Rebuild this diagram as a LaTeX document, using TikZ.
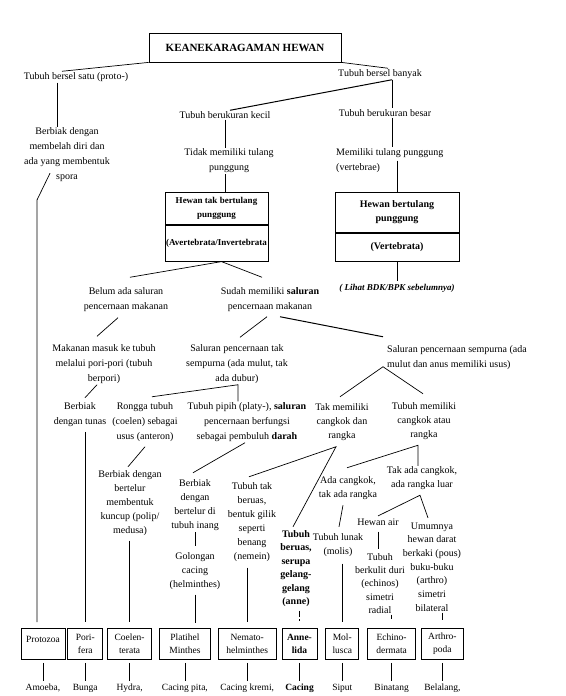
\documentclass[tikz,border=0pt]{standalone}
\usepackage{fontspec}
\setmainfont{Liberation Serif}
\usetikzlibrary{positioning}

\begin{document}
\begin{tikzpicture}[
        x=1pt, y=-1pt, % pixel grid of the scan, y runs down
        every node/.style={align=center, inner sep=1pt, font=\fontsize{10}{14}\selectfont},
        upper/.style={font=\fontsize{10}{15}\selectfont}, % looser leading in the top half
        link/.style={line width=0.7pt},
        catbox/.style={draw, line width=0.8pt, minimum width=103pt, font=\bfseries\fontsize{9}{14}\selectfont},
        taxon/.style={draw, line width=0.8pt, minimum height=31pt, font=\fontsize{9.5}{13}\selectfont}, % bottom row
        species/.style={font=\fontsize{9.5}{12}\selectfont}
    ]
    \useasboundingbox (0,0) rectangle (565,696);

    % top of the key
    \node[draw, line width=0.8pt, minimum width=192pt, minimum height=29pt, font=\bfseries\fontsize{11}{13}\selectfont] (title) at (245,47.5) {KEANEKARAGAMAN HEWAN};
    \node (proto) at (76,77) {Tubuh bersel satu (proto-)};
    \node (banyak) at (380,74) {Tubuh bersel banyak};
    \node[upper] (spora) at (67,155) {Berbiak dengan\\membelah diri dan\\ada yang membentuk\\spora};
    \node (kecil) at (225,115) {Tubuh berukuran kecil};
    \node (besar) at (385,113) {Tubuh berukuran besar};
    \node[upper] (tidak) at (229,161) {Tidak memiliki tulang\\punggung};
    \node[upper, anchor=west, align=left] (vert) at (335,160.5) {Memiliki tulang punggung\\(vertebrae)};

    % the two groups
    \node[catbox, minimum height=32pt, anchor=north] (avtop) at (216.5,192) {Hewan tak bertulang\\punggung};
    \node[catbox, minimum height=36pt, below=0pt of avtop] (avbot) {(Avertebrata/Invertebrata};
    \node[catbox, minimum width=124pt, minimum height=40pt, anchor=north, font=\bfseries\fontsize{10}{14}\selectfont] (vtop) at (397,192) {Hewan bertulang\\punggung};
    \node[catbox, minimum width=124pt, minimum height=28pt, below=0pt of vtop, font=\bfseries\fontsize{10}{14}\selectfont] (vbot) {(Vertebrata)};
    \node[font=\bfseries\itshape\fontsize{9}{11}\selectfont] (lihat) at (397,288) {( Lihat BDK/BPK sebelumnya)};

    % invertebrate branches
    \node[upper] (belum) at (126,299.5) {Belum ada saluran\\pencernaan makanan};
    \node[upper] (sudah) at (270,299.5) {Sudah memiliki \textbf{saluran}\\pencernaan makanan};
    \node[upper] (pori) at (104,364) {Makanan masuk ke tubuh\\melalui pori-pori (tubuh\\berpori)};
    \node[upper] (taksem) at (237,364) {Saluran pencernaan tak\\sempurna (ada mulut, tak\\ada dubur)};
    \node[upper, anchor=west, align=left] (sempurna) at (386,357.5) {Saluran pencernaan sempurna (ada\\mulut dan anus memiliki usus)};
    \node[upper] (tunas) at (80,414.5) {Berbiak\\dengan tunas};
    \node[upper] (rongga) at (145,422) {Rongga tubuh\\(coelen) sebagai\\usus (anteron)};
    \node[upper] (pipih) at (247,422) {Tubuh pipih (platy-), \textbf{saluran}\\pencernaan berfungsi\\sebagai pembuluh \textbf{darah}};
    \node (takmem) at (342,422) {Tak memiliki\\cangkok dan\\rangka};
    \node (cangkok) at (424,421) {Tubuh memiliki\\cangkok atau\\rangka};
    \node (kuncup) at (130,503) {Berbiak dengan\\bertelur\\membentuk\\kuncup (polip/\\medusa)};
    \node (inang) at (195,505.5) {Berbiak\\dengan\\bertelur di\\tubuh inang};
    \node (golongan) at (195,571) {Golongan\\cacing\\(helminthes)};
    \node (nemein) at (252,522) {Tubuh tak\\beruas,\\bentuk gilik\\seperti\\benang\\(nemein)};
    \node[font=\bfseries\fontsize{10}{13.4}\selectfont] (beruas) at (296,568.5) {Tubuh\\beruas,\\serupa\\gelang-\\gelang\\(anne)};
    \node (adacang) at (348,488) {Ada cangkok,\\tak ada rangka};
    \node (lunak) at (338,545) {Tubuh lunak\\(molis)};
    \node (takada) at (422,478.5) {Tak ada cangkok,\\ada rangka luar};
    \node (hewanair) at (378,522) {Hewan air};
    \node[font=\fontsize{10}{13.25}\selectfont] (duri) at (380,583.5) {Tubuh\\berkulit duri\\(echinos)\\simetri\\radial};
    \node[font=\fontsize{10}{13.7}\selectfont] (darat) at (432,567) {Umumnya\\hewan darat\\berkaki (pous)\\buku-buku\\(arthro)\\simetri\\bilateral};

    % phyla
    \node[taxon, minimum width=44pt, text depth=10pt, anchor=north] (protozoa) at (43,628) {Protozoa};
    \node[taxon, minimum width=35pt, right=2pt of protozoa] (porifera) {Pori-\\fera};
    \node[taxon, minimum width=44pt, right=4pt of porifera] (coelen) {Coelen-\\terata};
    \node[taxon, minimum width=51pt, right=7pt of coelen] (platihel) {Platihel\\Minthes};
    \node[taxon, minimum width=58pt, right=7pt of platihel] (nemato) {Nemato-\\helminthes};
    \node[taxon, minimum width=35pt, right=5pt of nemato, font=\bfseries\fontsize{9.5}{13}\selectfont] (annelida) {Anne-\\lida};
    \node[taxon, minimum width=33pt, right=8pt of annelida] (mollusca) {Mol-\\lusca};
    \node[taxon, minimum width=48pt, right=8pt of mollusca] (echino) {Echino-\\dermata};
    \node[taxon, minimum width=42pt, right=5pt of echino] (arthro) {Arthro-\\poda};

    \node[species, below=23pt of protozoa] (amoeba) {Amoeba,};
    \node[species, below=23pt of porifera] (bunga) {Bunga};
    \node[species, below=23pt of coelen] (hydra) {Hydra,};
    \node[species, below=23pt of platihel] (pita) {Cacing pita,};
    \node[species, below=23pt of nemato] (kremi) {Cacing kremi,};
    \node[species, below=23pt of annelida, font=\bfseries\fontsize{9.5}{12}\selectfont] (cacing) {Cacing};
    \node[species, below=23pt of mollusca] (siput) {Siput};
    \node[species, below=23pt of echino] (binatang) {Binatang};
    \node[species, below=23pt of arthro] (belalang) {Belalang,};

    % connectors, top half
    \draw[link] (title.south west) -- ([xshift=-14pt]proto.north);
    \draw[link] (title.south east) -- ([xshift=8pt]banyak.north);
    \coordinate (jb) at ([xshift=12pt]banyak.south);
    \draw[link, line width=1pt] (jb) -- ([xshift=5pt]kecil.north);
    \draw[link] (jb) -- (jb |- besar.north);
    \coordinate (jp) at ([xshift=-19pt]proto.south);
    \draw[link] (jp) -- (jp |- spora.north);
    \draw[link] (kecil.south) -- (kecil.south |- tidak.north);
    \draw[link] (kecil.south |- tidak.south) -- (kecil.south |- avtop.north);
    \draw[link] (jb |- besar.south) -- (jb |- vert.north);
    \draw[link] (vtop.north |- vert.east) -- (vtop.north);
    \draw[link, shorten >=2pt] (vbot.south) -- (lihat.north);
    \coordinate (jav) at ([xshift=5pt]avbot.south);
    \draw[link] (jav) -- ([xshift=4pt,yshift=9pt]belum.north);
    \draw[link] (jav) -- ([xshift=-8pt,yshift=9pt]sudah.north);
    \draw[link] ([xshift=-8pt,yshift=-5pt]belum.south) -- ([xshift=-7pt,yshift=7pt]pori.north);
    \coordinate (js) at ([yshift=-4pt]sudah.south);
    \draw[link] ([xshift=-3pt]js) -- ([xshift=3pt,yshift=6pt]taksem.north);
    \draw[link, line width=1pt] ([xshift=10pt]js) -- ([xshift=-3pt,yshift=7.5pt]sempurna.north west);
    \draw[link] ([xshift=-7pt]pori.south) -- ([xshift=5pt,yshift=3.5pt]tunas.north);
    \coordinate (jt) at ([xshift=1pt]taksem.south);
    \draw[link] ([xshift=7pt,yshift=4.5pt]rongga.north) -- (jt) -- (jt |- pipih.north);
    \coordinate (jsem) at ([xshift=-3pt,yshift=4pt]sempurna.south west);
    \draw[link] ([xshift=-2pt,yshift=5.5pt]takmem.north) -- (jsem) -- ([xshift=-1pt,yshift=7.5pt]cangkok.north);

    % connectors, lower half
    \draw[link] ([yshift=-4pt]rongga.south) -- ([xshift=-2pt,yshift=2.5pt]kuncup.north);
    \draw[link] ([xshift=-2pt]pipih.south) -- ([xshift=-2pt,yshift=6pt]inang.north);
    \coordinate (jtm) at ([xshift=-6pt,yshift=-5pt]takmem.south);
    \draw[link] ([xshift=-3pt,yshift=4.5pt]nemein.north) -- (jtm) -- ([xshift=-3pt,yshift=2.5pt]beruas.north);
    \coordinate (jca) at ([xshift=-6pt,yshift=-4.5pt]cangkok.south);
    \draw[link] ([xshift=-1pt,yshift=7.5pt]adacang.north) -- (jca) -- (jca |- takada.north);
    \draw[link] ([xshift=-5pt,yshift=-4.5pt]adacang.south) -- ([xshift=1pt,yshift=5.5pt]lunak.north);
    \coordinate (jta) at ([xshift=-2pt,yshift=-4pt]takada.south);
    \draw[link] ([yshift=1.5pt]hewanair.north) -- (jta) -- ([xshift=-4pt,yshift=3.5pt]darat.north);
    \draw[link, shorten >=3pt, shorten <=5pt] (hewanair.south) -- (hewanair.south |- duri.north);
    \draw[link, shorten >=5pt] (golongan.north |- inang.south) -- (golongan.north);

    % down to the phyla
    \coordinate (kink) at (37,200);
    \draw[link, shorten >=6pt] ([xshift=-17pt,yshift=10pt]spora.south) -- (kink) -- (kink |- protozoa.north);
    \draw[link, shorten >=6pt, shorten <=4pt] (porifera.north |- tunas.south) -- (porifera.north);
    \draw[link, shorten >=6pt, shorten <=4pt] (coelen.north |- kuncup.south) -- (coelen.north);
    \draw[link, shorten >=5pt, shorten <=4pt] (golongan.south) -- (golongan.south |- platihel.north);
    \draw[link, shorten >=6pt, shorten <=5pt] (nemato.north |- nemein.south) -- (nemato.north);
    \draw[link, shorten <=3pt, dash pattern=on 6pt off 2.5pt on 1.5pt off 9pt] (annelida.north |- beruas.south) -- (annelida.north);
    \draw[link, shorten >=6pt, shorten <=6pt] (mollusca.north |- lunak.south) -- (mollusca.north);
    \draw[link, shorten >=9pt] (echino.north |- duri.south) -- (echino.north);
    \draw[link, shorten >=8pt] (arthro.north |- darat.south) -- (arthro.north);

    % phyla to examples
    \draw[link, shorten <=3pt, shorten >=2pt] (protozoa.south) -- (amoeba.north);
    \draw[link, shorten <=3pt, shorten >=2pt] (porifera.south) -- (bunga.north);
    \draw[link, shorten <=3pt, shorten >=2pt] (coelen.south) -- (hydra.north);
    \draw[link, shorten <=3pt, shorten >=2pt] (platihel.south) -- (pita.north);
    \draw[link, shorten <=3pt, shorten >=2pt] (nemato.south) -- (kremi.north);
    \draw[link, shorten <=3pt, shorten >=2pt] (annelida.south) -- (cacing.north);
    \draw[link, shorten <=3pt, shorten >=2pt] (mollusca.south) -- (siput.north);
    \draw[link, shorten <=3pt, shorten >=2pt] (echino.south) -- (binatang.north);
    \draw[link, shorten <=3pt, shorten >=2pt] (arthro.south) -- (belalang.north);
\end{tikzpicture}
\end{document}
